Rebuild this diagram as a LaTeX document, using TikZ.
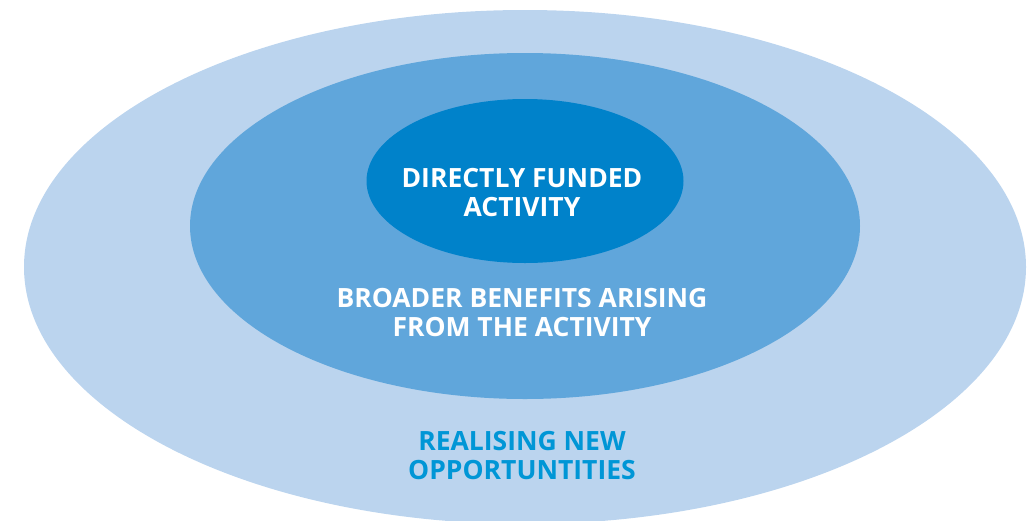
\documentclass[tikz,border=0pt]{standalone}
\usepackage{fontspec}
\setmainfont{Open Sans}
\usepackage{tikz}
\usetikzlibrary{shapes.geometric, positioning}
\definecolor{outerblue}{RGB}{187,212,238}
\definecolor{midblue}{RGB}{96,166,219}
\definecolor{innerblue}{RGB}{0,130,202}
\definecolor{labelblue}{RGB}{0,150,214}
\tikzstyle{ring} = [ellipse, draw=none, inner sep=0pt]
\tikzstyle{label} = [align=center, font=\bfseries\fontsize{26.5}{29}\selectfont]

\begin{document}
\begin{tikzpicture}[x=1pt, y=-1pt]
    \useasboundingbox (0,0) rectangle (1028,520);
    \node [ring, fill=outerblue, minimum width=1002pt, minimum height=514pt] (outer) at (525,267) {};
    \node [ring, fill=midblue, minimum width=670pt, minimum height=346pt] (middle) at (525,226) {};
    \node [ring, fill=innerblue, minimum width=317pt, minimum height=164pt] (inner) at (525,181) {};
    \node [label, text=white] (direct) at (522,193) {DIRECTLY FUNDED\\ACTIVITY};
    \node [label, text=white] (broader) at (522,313) {BROADER BENEFITS ARISING\\FROM THE ACTIVITY};
    \node [label, text=labelblue] (realising) at (522,456) {REALISING NEW\\OPPORTUNTITIES};
\end{tikzpicture}
\end{document}
